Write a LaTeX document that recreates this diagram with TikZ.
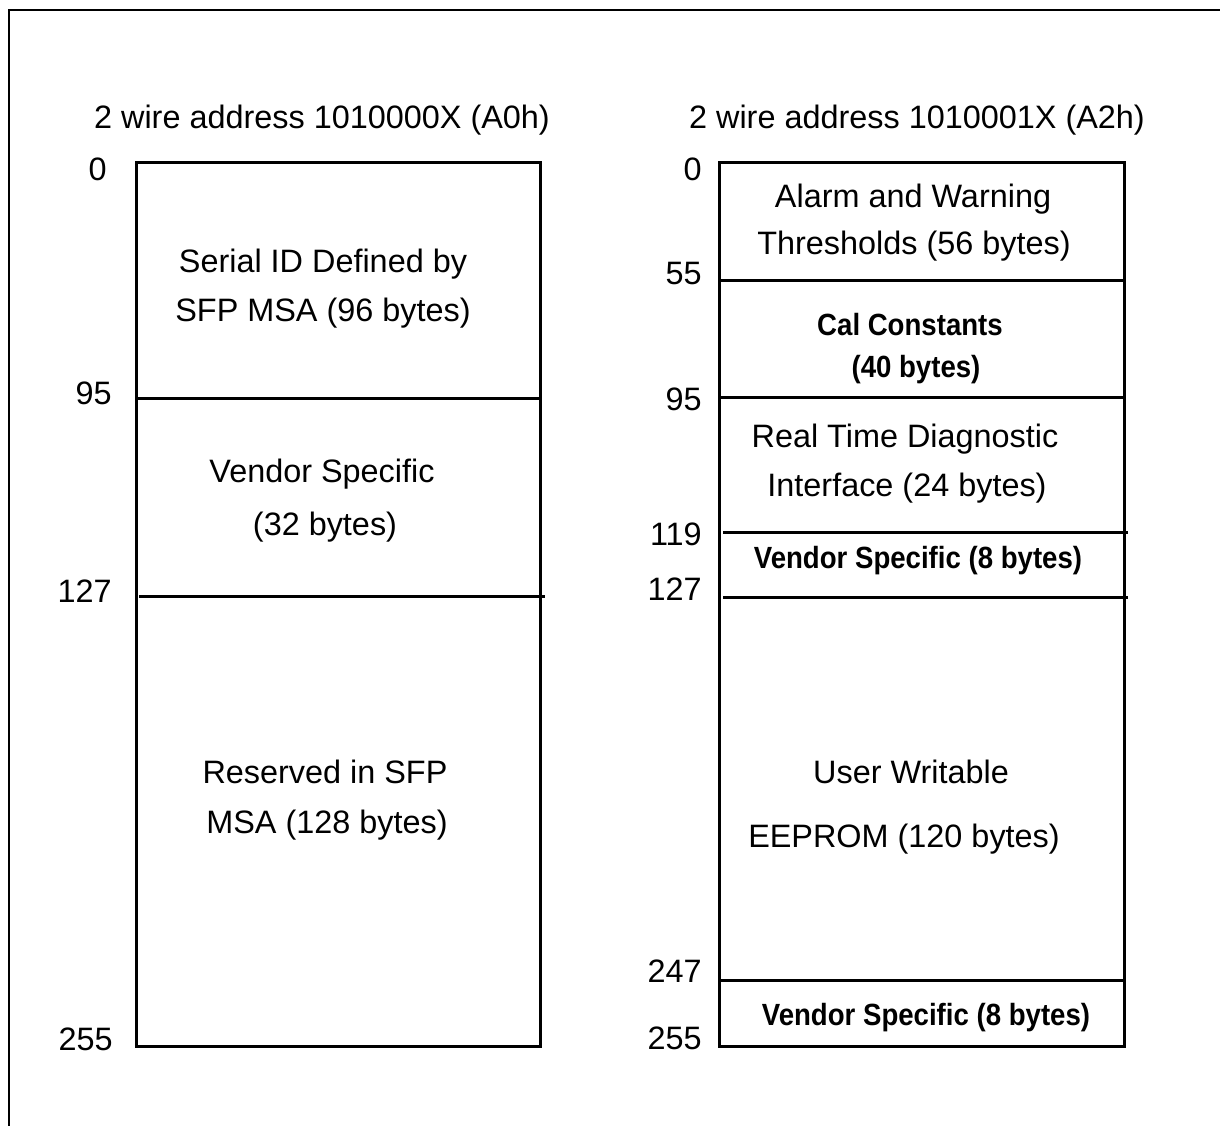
\documentclass[tikz,border=0pt]{standalone}
\usepackage{fontspec}
\setmainfont{Liberation Sans}
\newfontfamily\nbfam[FakeStretch=0.9]{Liberation Sans}
\newcommand{\regtxt}{\fontsize{24.3}{29}\selectfont}
\newcommand{\boldtxt}{\nbfam\bfseries\fontsize{23}{28}\selectfont}
\begin{document}
\begin{tikzpicture}[x=0.75pt,y=-0.75pt,
  lbl/.style={anchor=base,inner sep=0pt,font=\regtxt},
  num/.style={anchor=base east,inner sep=0pt,font=\regtxt},
  blbl/.style={anchor=base,inner sep=0pt,font=\boldtxt},
  boxline/.style={line width=2.25pt},
  sepline/.style={line width=2.25pt}]
\useasboundingbox (0,0) rectangle (1220,1126);
% outer frame (partly outside the page)
\draw[line width=1.5pt] (9,10) rectangle (1260,1180);

% titles
\node[lbl] (tA) at (322,129) {2 wire address 1010000X (A0h)};
\node[lbl] (tB) at (917,129) {2 wire address 1010001X (A2h)};

% left memory map
\draw[boxline] (136,163) rectangle (540,1046);
\coordinate (l95a) at (136,399); \coordinate (l95b) at (540,399);
\coordinate (l127a) at (139,596); \coordinate (l127b) at (545,596);
\draw[sepline] (l95a) -- (l95b);
\draw[sepline] (l127a) -- (l127b);

\node[num] (lA0) at (107,181) {0};
\node[num] (lA95) at (112,405) {95};
\node[num] (lA127) at (112,602) {127};
\node[num] (lA255) at (113,1050) {255};

\node[lbl] (serial1) at (323,273) {Serial ID Defined by};
\node[lbl] (serial2) at (323,322) {SFP MSA (96 bytes)};
\node[lbl] (vend1) at (322,483) {Vendor Specific};
\node[lbl] (vend2) at (325,535) {(32 bytes)};
\node[lbl] (res1) at (325,783) {Reserved in SFP};
\node[lbl] (res2) at (327,833) {MSA (128 bytes)};

% right memory map
\draw[boxline] (719,163) rectangle (1124,1046);
\coordinate (r55a) at (719,281); \coordinate (r55b) at (1124,281);
\coordinate (r95a) at (719,398); \coordinate (r95b) at (1124,398);
\coordinate (r119a) at (723,532); \coordinate (r119b) at (1128,532);
\coordinate (r127a) at (723,597); \coordinate (r127b) at (1128,597);
\coordinate (r247a) at (719,980); \coordinate (r247b) at (1124,980);
\draw[sepline] (r55a) -- (r55b);
\draw[sepline] (r95a) -- (r95b);
\draw[sepline] (r119a) -- (r119b);
\draw[sepline] (r127a) -- (r127b);
\draw[sepline] (r247a) -- (r247b);

\node[num] (rB0) at (702,181) {0};
\node[num] (rB55) at (702,285) {55};
\node[num] (rB95) at (702,411) {95};
\node[num] (rB119) at (702,545) {119};
\node[num] (rB127) at (702,600) {127};
\node[num] (rB247) at (702,982) {247};
\node[num] (rB255) at (702,1049) {255};

\node[lbl] (alarm1) at (913,208) {Alarm and Warning};
\node[lbl] (alarm2) at (914,255) {Thresholds (56 bytes)};
\node[blbl] (cal1) at (910,336) {Cal Constants};
\node[blbl] (cal2) at (916,378) {(40 bytes)};
\node[lbl] (rtd1) at (905,447) {Real Time Diagnostic};
\node[lbl] (rtd2) at (907,496) {Interface (24 bytes)};
\node[blbl] (vs1) at (918,568) {Vendor Specific (8 bytes)};
\node[lbl] (uw1) at (911,783) {User Writable};
\node[lbl] (uw2) at (904,847) {EEPROM (120 bytes)};
\node[blbl] (vs2) at (926,1025) {Vendor Specific (8 bytes)};
\end{tikzpicture}
\end{document}
